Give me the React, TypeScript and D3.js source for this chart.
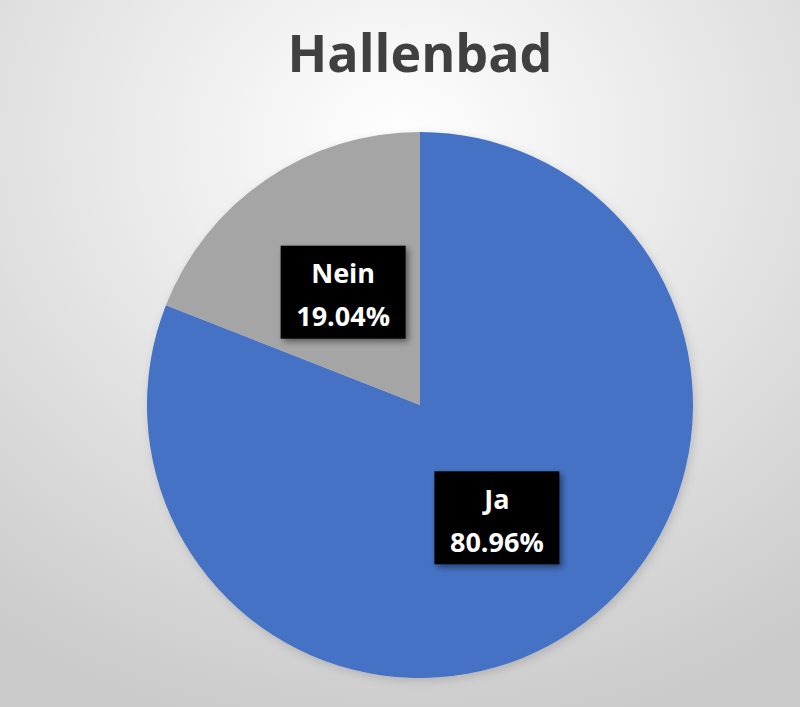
import React from 'react';
import * as d3 from 'd3';

const categories = ['Ja', 'Nein'];
const values = [80.96, 19.04];
const colors = ['#4472C4', '#A5A5A5'];
const title = 'Hallenbad';

const width = 800;
const height = 707;
const cx = 420;
const cy = 405;
const radius = 273;

export default function App() {
  const pie = d3.pie<number>().sort(null).value(d => d);
  const arcs = pie(values);
  const arc = d3.arc<d3.PieArcDatum<number>>().innerRadius(0).outerRadius(radius);

  const boxW = 125;
  const boxH = 93;

  return (
    <svg width={width} height={height} style={{ position: 'absolute', left: 0, top: 0 }}>
      <defs>
        <radialGradient id="bg" cx="50%" cy="20%" r="85%">
          <stop offset="0%" stopColor="#ffffff" />
          <stop offset="100%" stopColor="#cbcbcb" />
        </radialGradient>
        <filter id="shadow" x="-20%" y="-20%" width="150%" height="150%">
          <feDropShadow dx="3" dy="3" stdDeviation="3" floodColor="#000" floodOpacity="0.45" />
        </filter>
        <filter id="pieShadow" x="-10%" y="-10%" width="125%" height="125%">
          <feDropShadow dx="2" dy="3" stdDeviation="5" floodColor="#000" floodOpacity="0.15" />
        </filter>
      </defs>
      <rect width={width} height={height} fill="url(#bg)" />
      <text
        x={cx}
        y={72}
        textAnchor="middle"
        fontFamily="'Open Sans', sans-serif"
        fontWeight="bold"
        fontSize={52}
        fill="#404040"
      >
        {title}
      </text>
      <g transform={`translate(${cx},${cy})`} filter="url(#pieShadow)">
        {arcs.map((a, i) => (
          <path key={categories[i]} d={arc(a) ?? ''} fill={colors[i]} />
        ))}
      </g>
      <g transform={`translate(${cx},${cy})`}>
        {arcs.map((a, i) => {
          const [lx, ly] = arc.centroid(a);
          return (
            <g key={categories[i]} transform={`translate(${lx},${ly})`}>
              <rect x={-boxW / 2} y={-boxH / 2} width={boxW} height={boxH} fill="#000" filter="url(#shadow)" />
              <text
                y={-9}
                textAnchor="middle"
                fontFamily="'Open Sans', sans-serif"
                fontWeight="bold"
                fontSize={27}
                fill="#fff"
              >
                {categories[i]}
              </text>
              <text
                y={34}
                textAnchor="middle"
                fontFamily="'Open Sans', sans-serif"
                fontWeight="bold"
                fontSize={27}
                fill="#fff"
              >
                {values[i].toFixed(2)}%
              </text>
            </g>
          );
        })}
      </g>
    </svg>
  );
}
